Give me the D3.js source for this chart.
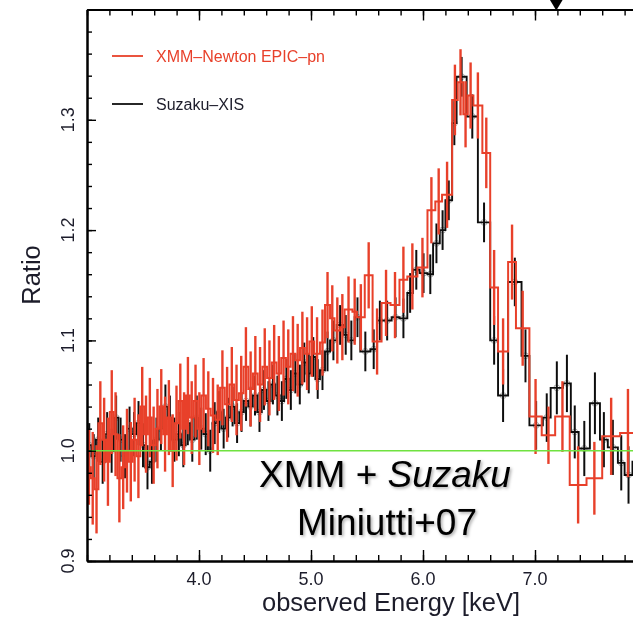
<!DOCTYPE html>
<html>
<head>
<meta charset="utf-8">
<script src="https://cdn.jsdelivr.net/npm/d3@7/dist/d3.min.js"></script>
<style>
  html, body { margin: 0; padding: 0; background: #fff; }
  svg { display: block; }
</style>
</head>
<body>
<svg id="chart" width="633" height="618"></svg>
<script>
// XMM-Newton EPIC-pn: bin edges [keV], data/model ratio, 1-sigma error
const xmmEdges = [
  3.000, 3.034, 3.068, 3.102, 3.136, 3.170, 3.204, 3.238, 3.272, 3.306,
  3.340, 3.374, 3.408, 3.442, 3.476, 3.510, 3.544, 3.578, 3.612, 3.646,
  3.680, 3.714, 3.748, 3.782, 3.816, 3.850, 3.884, 3.918, 3.952, 3.986,
  4.020, 4.062, 4.104, 4.146, 4.188, 4.230, 4.272, 4.314, 4.356, 4.398,
  4.440, 4.482, 4.524, 4.566, 4.608, 4.650, 4.692, 4.734, 4.776, 4.818,
  4.860, 4.902, 4.944, 4.986, 5.028, 5.080, 5.125, 5.170, 5.210, 5.260,
  5.300, 5.370, 5.410, 5.480, 5.550, 5.630, 5.710, 5.790, 5.860, 5.950,
  6.040, 6.110, 6.170, 6.260, 6.310, 6.360, 6.400, 6.450, 6.530, 6.600,
  6.670, 6.760, 6.830, 6.950, 7.060, 7.180, 7.310, 7.460, 7.600, 7.760,
  7.900
];
const xmmRatio = [
  0.985, 0.975, 0.965, 1.025, 1.010, 0.990, 1.035, 1.015, 0.975, 0.985,
  1.000, 0.990, 1.010, 0.995, 1.040, 1.015, 1.030, 1.005, 1.020, 1.040,
  1.015, 1.030, 1.000, 1.025, 1.045, 1.020, 1.050, 1.030, 1.045, 1.020,
  1.050, 1.038, 1.032, 1.028, 1.057, 1.042, 1.060, 1.046, 1.052, 1.076,
  1.056, 1.070, 1.060, 1.076, 1.066, 1.080, 1.070, 1.084, 1.076, 1.088,
  1.082, 1.093, 1.088, 1.099, 1.088, 1.098, 1.132, 1.120, 1.109, 1.112,
  1.128, 1.126, 1.121, 1.159, 1.099, 1.134, 1.132, 1.155, 1.158, 1.166,
  1.218, 1.226, 1.232, 1.318, 1.334, 1.305, 1.322, 1.313, 1.270, 1.148,
  1.090, 1.171, 1.111, 1.031, 1.014, 1.031, 0.969, 0.975, 1.013, 1.016
];
const xmmErr = [
  0.034, 0.042, 0.040, 0.038, 0.038, 0.040, 0.038, 0.038, 0.040, 0.038,
  0.038, 0.036, 0.038, 0.038, 0.036, 0.035, 0.036, 0.035, 0.036, 0.034,
  0.034, 0.034, 0.033, 0.034, 0.034, 0.033, 0.035, 0.033, 0.033, 0.033,
  0.034, 0.034, 0.034, 0.032, 0.034, 0.034, 0.034, 0.032, 0.034, 0.036,
  0.034, 0.034, 0.034, 0.035, 0.034, 0.034, 0.034, 0.034, 0.034, 0.034,
  0.033, 0.033, 0.033, 0.032, 0.033, 0.030, 0.030, 0.030, 0.030, 0.030,
  0.030, 0.030, 0.030, 0.030, 0.030, 0.030, 0.030, 0.030, 0.030, 0.027,
  0.030, 0.030, 0.030, 0.032, 0.030, 0.030, 0.030, 0.030, 0.032, 0.034,
  0.030, 0.034, 0.034, 0.034, 0.026, 0.032, 0.035, 0.033, 0.035, 0.040
];

// Suzaku XIS: bin edges [keV], data/model ratio, 1-sigma error
const suzakuEdges = [
  3.00, 3.04, 3.08, 3.12, 3.16, 3.20, 3.24, 3.28, 3.32, 3.36,
  3.40, 3.44, 3.48, 3.52, 3.56, 3.60, 3.64, 3.68, 3.72, 3.76,
  3.80, 3.84, 3.88, 3.92, 3.96, 4.00, 4.04, 4.08, 4.12, 4.16,
  4.20, 4.24, 4.28, 4.32, 4.36, 4.40, 4.44, 4.48, 4.52, 4.56,
  4.60, 4.64, 4.68, 4.72, 4.76, 4.80, 4.84, 4.88, 4.92, 4.96,
  5.00, 5.04, 5.08, 5.125, 5.17, 5.23, 5.29, 5.33, 5.39, 5.44,
  5.53, 5.59, 5.64, 5.72, 5.79, 5.86, 5.91, 5.97, 6.04, 6.09,
  6.15, 6.20, 6.26, 6.30, 6.39, 6.49, 6.60, 6.67, 6.76, 6.88,
  6.95, 7.07, 7.14, 7.25, 7.32, 7.39, 7.49, 7.58, 7.65, 7.74,
  7.80, 7.87, 7.95
];
const suzakuRatio = [
  1.005, 0.995, 1.010, 0.990, 1.015, 1.000, 1.030, 1.010, 0.995, 1.020,
  1.015, 1.025, 1.005, 0.985, 0.990, 1.010, 1.020, 1.040, 1.030, 1.010,
  1.015, 1.005, 1.025, 1.010, 1.030, 1.020, 1.015, 1.000, 1.025, 1.035,
  1.020, 1.030, 1.040, 1.025, 1.035, 1.045, 1.040, 1.050, 1.035, 1.055,
  1.045, 1.060, 1.050, 1.045, 1.065, 1.055, 1.070, 1.060, 1.080, 1.070,
  1.085, 1.065, 1.073, 1.090, 1.100, 1.114, 1.105, 1.100, 1.121, 1.090,
  1.092, 1.118, 1.118, 1.121, 1.120, 1.143, 1.164, 1.161, 1.160, 1.188,
  1.200, 1.227, 1.297, 1.339, 1.303, 1.207, 1.100, 1.050, 1.153, 1.086,
  1.023, 1.030, 1.057, 1.061, 1.017, 1.002, 1.043, 1.010, 1.003, 0.989,
  0.978, 0.990
];
const suzakuErr = [
  0.020, 0.020, 0.020, 0.020, 0.020, 0.020, 0.020, 0.020, 0.020, 0.020,
  0.020, 0.020, 0.020, 0.020, 0.020, 0.020, 0.020, 0.020, 0.020, 0.020,
  0.020, 0.020, 0.020, 0.020, 0.020, 0.019, 0.019, 0.019, 0.019, 0.019,
  0.018, 0.018, 0.018, 0.018, 0.018, 0.018, 0.018, 0.018, 0.018, 0.018,
  0.018, 0.018, 0.018, 0.018, 0.018, 0.018, 0.018, 0.018, 0.018, 0.018,
  0.018, 0.018, 0.018, 0.018, 0.018, 0.018, 0.018, 0.018, 0.018, 0.018,
  0.018, 0.018, 0.018, 0.018, 0.018, 0.018, 0.018, 0.018, 0.018, 0.018,
  0.018, 0.018, 0.020, 0.018, 0.020, 0.018, 0.022, 0.024, 0.022, 0.024,
  0.022, 0.022, 0.024, 0.026, 0.024, 0.025, 0.028, 0.025, 0.025, 0.025,
  0.026, 0.026
];

const seriesNames = ["XMM\u2013Newton EPIC\u2013pn", "Suzaku\u2013XIS"];
const seriesColors = ["#e8412b", "#111111"];
const xTickValues = [4, 5, 6, 7];
const xTickLabels = ["4.0", "5.0", "6.0", "7.0"];
const yTickValues = [0.9, 1.0, 1.1, 1.2, 1.3];
const yTickLabels = ["0.9", "1.0", "1.1", "1.2", "1.3"];
const unityRatio = 1.0;
const markerEnergy = 7.19;

const svg = d3.select("#chart");
const font = "'Liberation Sans', Arial, Helvetica, sans-serif";
const plot = { left: 87, right: 647, top: 9.5, bottom: 561 };

const x = d3.scaleLinear().domain([3.0, 8.0]).range([plot.left, plot.right]);
const y = d3.scaleLinear().domain([0.9, 1.4]).range([plot.bottom, plot.top]);

const defs = svg.append("defs");
defs.append("clipPath").attr("id", "plot-clip")
  .append("rect")
  .attr("x", plot.left).attr("y", plot.top)
  .attr("width", plot.right - plot.left).attr("height", plot.bottom - plot.top);
const shadow = defs.append("filter").attr("id", "soft-shadow")
  .attr("x", "-10%").attr("y", "-20%").attr("width", "130%").attr("height", "150%");
shadow.append("feDropShadow")
  .attr("dx", 1.5).attr("dy", 1.5).attr("stdDeviation", 1.4)
  .attr("flood-color", "#000").attr("flood-opacity", 0.35);
// the plotted figure itself is slightly soft
defs.append("filter").attr("id", "soft")
  .attr("x", "-5%").attr("y", "-5%").attr("width", "110%").attr("height", "110%")
  .append("feGaussianBlur").attr("stdDeviation", 0.45);

const figure = svg.append("g").attr("filter", "url(#soft)");

// turn edges/ratio/error arrays into bin records
function bins(edges, ratio, err) {
  return ratio.map((v, i) => ({ lo: edges[i], hi: edges[i + 1], v, e: err[i] }));
}
const series = [
  bins(xmmEdges, xmmRatio, xmmErr),
  bins(suzakuEdges, suzakuRatio, suzakuErr)
];
const style = [
  { step: 2.0, err: 2.4 },   // EPIC-pn
  { step: 1.9, err: 2.0 }    // XIS
];

const data = figure.append("g").attr("clip-path", "url(#plot-clip)");

const stepLine = d3.line().curve(d3.curveStepAfter).x(d => x(d[0])).y(d => y(d[1]));

// XIS underneath, EPIC-pn on top
[1, 0].forEach(k => {
  const s = series[k];
  const g = data.append("g");
  const pts = s.map(b => [b.lo, b.v]);
  pts.push([s[s.length - 1].hi, s[s.length - 1].v]);
  if (k === 1) {
    // faint open markers at each XIS bin centre
    g.selectAll("circle").data(s).join("circle")
      .attr("cx", b => x((b.lo + b.hi) / 2)).attr("cy", b => y(b.v))
      .attr("r", 3).attr("fill", "none")
      .attr("stroke", "#777").attr("stroke-width", 1).attr("opacity", 0.55);
  }
  g.append("path")
    .attr("d", stepLine(pts))
    .attr("fill", "none")
    .attr("stroke", seriesColors[k])
    .attr("stroke-width", style[k].step)
    .attr("stroke-linejoin", "miter");
  g.selectAll("line.err").data(s).join("line")
    .attr("class", "err")
    .attr("x1", b => x((b.lo + b.hi) / 2)).attr("x2", b => x((b.lo + b.hi) / 2))
    .attr("y1", b => y(b.v - b.e)).attr("y2", b => y(b.v + b.e))
    .attr("stroke", seriesColors[k])
    .attr("stroke-width", style[k].err);
});

// unity line
data.append("line")
  .attr("x1", plot.left).attr("x2", plot.right)
  .attr("y1", y(unityRatio)).attr("y2", y(unityRatio))
  .attr("stroke", "#6fe23f").attr("stroke-width", 1.6);

// axes: ticks point inward
const xMinor = x.ticks(25);
const yMinor = y.ticks(25);
function styleAxis(g) {
  g.select(".domain").attr("stroke", "#000").attr("stroke-width", 2);
  g.selectAll(".tick line").attr("stroke", "#000").attr("stroke-width", 1.4);
  g.selectAll(".tick text").remove();
}
const axes = figure.append("g");
axes.append("g").attr("transform", `translate(0,${plot.bottom})`)
  .call(d3.axisBottom(x).tickValues(xMinor).tickSize(-6).tickSizeOuter(0).tickFormat(""))
  .call(styleAxis);
axes.append("g").attr("transform", `translate(0,${plot.bottom})`)
  .call(d3.axisBottom(x).tickValues(xTickValues).tickSize(-11).tickSizeOuter(0).tickFormat(""))
  .call(styleAxis);
axes.append("g").attr("transform", `translate(0,${plot.top})`)
  .call(d3.axisTop(x).tickValues(xMinor).tickSize(-6).tickSizeOuter(0).tickFormat(""))
  .call(styleAxis);
axes.append("g").attr("transform", `translate(0,${plot.top})`)
  .call(d3.axisTop(x).tickValues(xTickValues).tickSize(-11).tickSizeOuter(0).tickFormat(""))
  .call(styleAxis);
axes.append("g").attr("transform", `translate(${plot.left},0)`)
  .call(d3.axisLeft(y).tickValues(yMinor).tickSize(-5).tickSizeOuter(0).tickFormat(""))
  .call(styleAxis);
axes.append("g").attr("transform", `translate(${plot.left},0)`)
  .call(d3.axisLeft(y).tickValues(yTickValues).tickSize(-9).tickSizeOuter(0).tickFormat(""))
  .call(styleAxis);

// tick labels
const labels = figure.append("g").attr("font-family", font).attr("fill", "#1d1d2b");
labels.selectAll("text.xt").data(xTickValues).join("text")
  .attr("class", "xt")
  .attr("x", d => x(d)).attr("y", 585)
  .attr("text-anchor", "middle").attr("font-size", 18)
  .text((d, i) => xTickLabels[i]);
labels.selectAll("text.yt").data(yTickValues).join("text")
  .attr("class", "yt")
  .attr("transform", d => `translate(74,${y(d)}) rotate(-90)`)
  .attr("text-anchor", "middle").attr("font-size", 18)
  .text((d, i) => yTickLabels[i]);

// axis titles
labels.append("text")
  .attr("x", 391).attr("y", 611)
  .attr("text-anchor", "middle").attr("font-size", 25.5)
  .text("observed Energy [keV]");
labels.append("text")
  .attr("transform", "translate(40,275) rotate(-90)")
  .attr("text-anchor", "middle").attr("font-size", 25.5)
  .text("Ratio");

// legend
const legend = figure.append("g").attr("font-family", font).attr("font-size", 16);
[56, 104].forEach((ly, i) => {
  legend.append("line")
    .attr("x1", 112).attr("x2", 143).attr("y1", ly).attr("y2", ly)
    .attr("stroke", seriesColors[i]).attr("stroke-width", 1.8);
  legend.append("text")
    .attr("x", 156).attr("y", ly + 6)
    .attr("fill", i === 0 ? seriesColors[0] : "#1d1d2b")
    .text(seriesNames[i]);
});

// marker on the top axis
const mx = x(markerEnergy);
svg.append("path")
  .attr("d", d3.line()([[mx - 7.5, -2], [mx + 7.5, -2], [mx, plot.top + 1]]) + "Z")
  .attr("fill", "#000");

// annotation
const note = svg.append("g").attr("font-family", font).attr("font-size", 37)
  .attr("fill", "#000").attr("text-anchor", "middle").attr("filter", "url(#soft-shadow)");
const t1 = note.append("text").attr("x", 385).attr("y", 487);
t1.append("tspan").text("XMM + ");
t1.append("tspan").attr("font-style", "italic").text("Suzaku");
note.append("text").attr("x", 387).attr("y", 535).text("Miniutti+07");
</script>
</body>
</html>
